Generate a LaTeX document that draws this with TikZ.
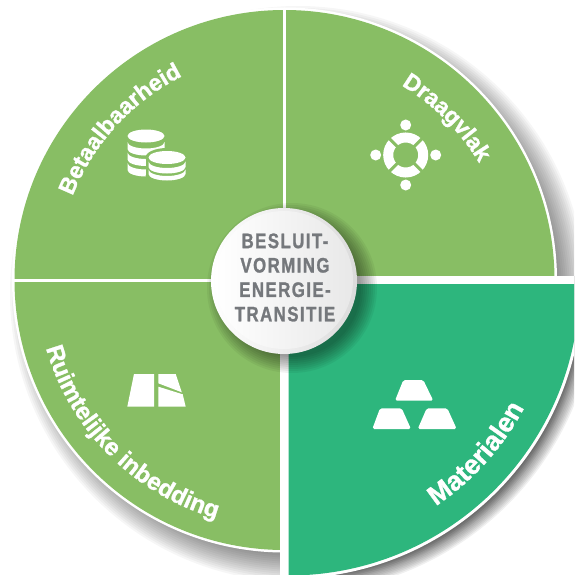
\documentclass[tikz,border=0pt]{standalone}
\usepackage{fontspec}
\setmainfont{Liberation Sans}
\newfontfamily\centerfont[FakeStretch=0.8,LetterSpace=7,FakeBold=1.2]{Liberation Sans Bold}
\newfontfamily\lblface[FakeBold=1.2]{Liberation Sans Bold}
\newcommand{\lblfont}{\lblface\fontsize{23.2}{24}\selectfont}
\newcommand{\lblfontb}{\lblface\fontsize{24.2}{24}\selectfont}
\newcommand{\lblfontc}{\lblface\fontsize{27}{24}\selectfont}
\usetikzlibrary{decorations.text}
\definecolor{lgreen}{HTML}{88BE64}
\definecolor{dgreen}{HTML}{2DB67D}
\definecolor{ctext}{HTML}{75787C}
\newcommand{\coinband}[3]{\fill[white] (#1-18.5,-#2) -- ++(0,-#3) arc[start angle=180,end angle=360,x radius=18.5,y radius=6.5] -- ++(0,#3) arc[start angle=0,end angle=-180,x radius=18.5,y radius=6.5] -- cycle;}
\tikzset{
  curved/.style={decorate,decoration={text along path,text align=center,text={|\lblfont\color{white}|#1}}},
  curvedb/.style={decorate,decoration={text along path,text align=center,text={|\lblfontb\color{white}|#1}}},
  curvedc/.style={decorate,decoration={text along path,text align=center,text={|\lblfontc\color{white}|#1}}},
  iconfill/.style={fill=white,rounded corners=1.8pt}
}
\begin{document}
\begin{tikzpicture}[x=1pt,y=1pt]
\useasboundingbox (0,0) rectangle (574,-575);
\fill[white] (0,0) rectangle (574,-575);
\clip (0,0) rectangle (574,-575);
% disc shadow
\foreach \d in {18,16,...,-8}{\fill[black,opacity=0.035] (298,-294) circle[radius=270+\d];}
% rim and quadrants
\fill[white] (284.5,-280) circle[radius=272.5];
\begin{scope}
\clip (284.5,-280) circle[radius=270];
\fill[lgreen] (0,0) rectangle (283,-278.5);
\fill[lgreen] (286,0) rectangle (574,-276);
\fill[lgreen] (0,-281.5) rectangle (280,-575);
\end{scope}
% wedge shadow
\begin{scope}
\clip (280,-276) rectangle (574,-575);
\foreach \d in {12,10.5,...,-3}{\fill[black,opacity=0.06] (293,-289.5) circle[radius=292+\d];}
\fill[white] (288.5,-284.5) circle[radius=294];
\fill[white] (280,-276) rectangle (574,-284.5);
\fill[white] (280,-276) rectangle (288.5,-575);
\end{scope}
\begin{scope}
\clip (288.5,-284.5) rectangle (574,-575);
\fill[dgreen] (288.5,-284.5) circle[radius=291];
\end{scope}
% centre disc
\foreach \d in {12,10,...,-4}{\fill[black,opacity=0.05] (292,-288) circle[radius=73+\d];}
\shade[shading angle=45,left color=white,right color=white!72!gray] (284,-281) circle[radius=73];
\shade[shading angle=45,left color=white,right color=black!9] (284,-280) circle[radius=69];
\node[font=\centerfont\fontsize{21}{24.4}\selectfont,text=ctext,align=center,inner sep=0pt] (centre) at (285,-277.5) {BESLUIT-\\VORMING\\ENERGIE-\\TRANSITIE};
% labels
\path[curved=Betaalbaarheid] (284.5,-280) ++(185:228) arc[start angle=185,end angle=90,radius=228];
\path[curved=Draagvlak] (284.5,-280) ++(90:227) arc[start angle=90,end angle=0,radius=227];
\path[curvedb=Ruimtelijke inbedding] (284.5,-280) ++(170:248) arc[start angle=170,end angle=280,radius=248];
\path[curvedc=Materialen] (288.5,-284.5) ++(-87:266) arc[start angle=-87,end angle=3,radius=266];
% coins
\fill[white] (146,-136) ellipse[x radius=18.5,y radius=6.5];
\coinband{146}{142}{7}
\coinband{146}{152.5}{7}
\coinband{146}{163}{7}
\fill[lgreen] (167,-157.5) ellipse[x radius=21.5,y radius=9.5];
\fill[lgreen] (145.5,-157.5) rectangle (188.5,-176);
\fill[lgreen] (167,-176) ellipse[x radius=21.5,y radius=9];
\fill[white] (167,-157.5) ellipse[x radius=18.5,y radius=6.5];
\coinband{167}{161.5}{5.5}
\coinband{167}{169.5}{4.5}
% ring icon
\draw[white,line width=10pt] (405.7,-155) circle[radius=17.5];
\foreach \a in {45,135,225,315}{\draw[lgreen,line width=3pt] (405.7,-155) ++(\a:11) -- ++(\a:13);}
\foreach \a in {0,90,180,270}{\fill[white] (405.7,-155) ++(\a:30) circle[radius=5.5];}
% road icon
\fill[white] (134,-374) -- (154,-374) -- (154,-406.7) -- (127.3,-406.7) -- cycle;
\fill[white] (158.3,-374) -- (175.7,-374) -- (181.8,-392.3) -- (158.3,-383.3) -- cycle;
\fill[white] (158.3,-386.7) -- (182.7,-394.3) -- (185.7,-406.7) -- (158.3,-406.7) -- cycle;
% gold bars
\fill[iconfill] (403.3,-380) -- (423.3,-380) -- (433.3,-400.7) -- (395,-400.7) -- cycle;
\fill[iconfill] (380,-408.3) -- (401.7,-408.3) -- (411,-429) -- (372.3,-429) -- cycle;
\fill[iconfill] (426.7,-408.3) -- (447.3,-408.3) -- (456.7,-429) -- (417.7,-429) -- cycle;
\end{tikzpicture}
\end{document}
